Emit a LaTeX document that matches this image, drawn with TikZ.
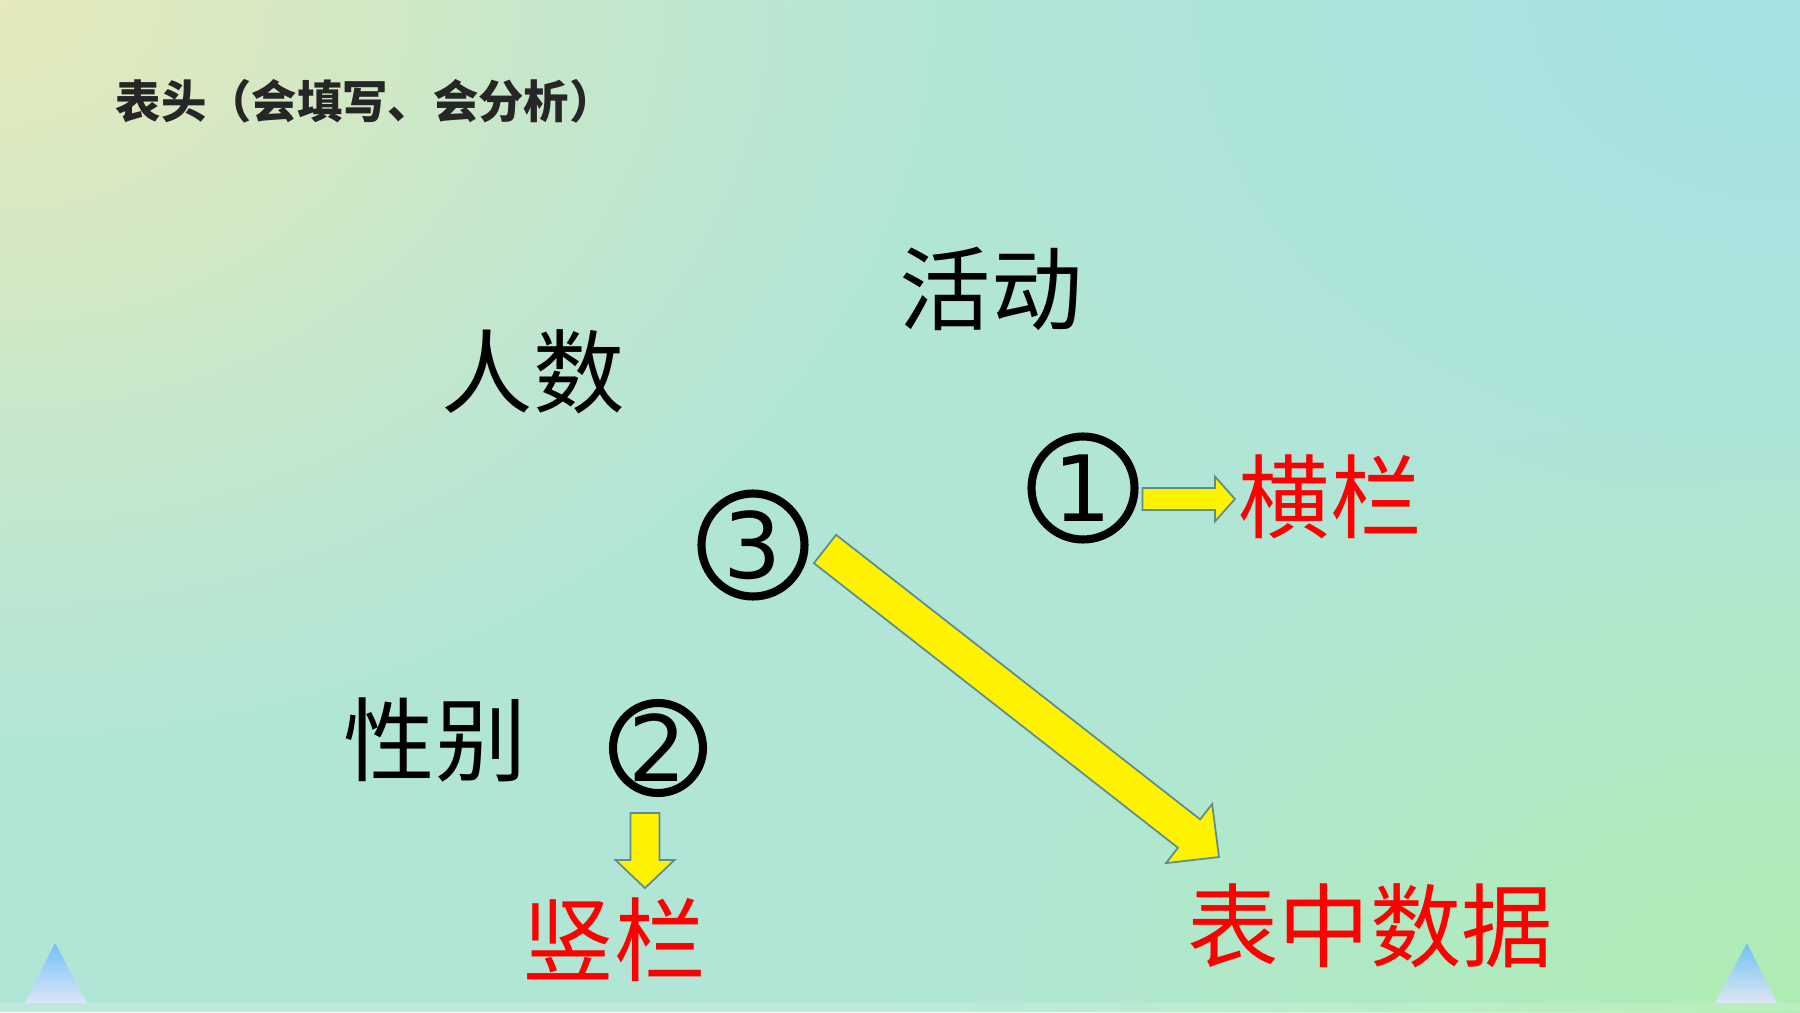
\documentclass[tikz,border=0pt]{standalone}
\usepackage{fontspec}
\usetikzlibrary{calc,fadings}
\newfontfamily\cjk{Noto Sans CJK SC}
\newfontfamily\digitfont{DejaVu Sans}
\definecolor{bgbase}{HTML}{B1E6D7}
\definecolor{bgyellow}{HTML}{E6EABB}
\definecolor{bggreen}{HTML}{AFEDB3}
\definecolor{bgcyan}{HTML}{A5E0E3}
\definecolor{arrowedge}{HTML}{5E8E8C}
\definecolor{titlegray}{HTML}{262626}
\tikzfading[name=glow, inner color=transparent!0, outer color=transparent!100]
\tikzstyle{bigword} = [font=\cjk\fontsize{26pt}{30pt}\selectfont, inner sep=0pt]
\tikzstyle{answer} = [bigword, text=red]
\tikzstyle{num} = [circle, draw, line width=2.3pt, minimum size=1.03cm, inner sep=0pt,
    font=\digitfont\fontsize{26pt}{30pt}\selectfont]
\tikzstyle{fat} = [draw=arrowedge, fill=yellow, line width=0.5pt, line join=miter]
\tikzstyle{corner} = [top color=blue!45!cyan!60!white, bottom color=white!90!blue, opacity=0.85]
% block arrow: tail, tip, half shaft, half head, head length
\newcommand{\fatarrow}[5]{%
  \coordinate (neck) at ($(#2)!#5!(#1)$);
  \path [fat] ($(#1)!#3!90:(#2)$) -- ($(neck)!#3!90:(#2)$) -- ($(neck)!#4!90:(#2)$) -- (#2)
    -- ($(neck)!#4!-90:(#2)$) -- ($(neck)!#3!-90:(#2)$) -- ($(#1)!#3!-90:(#2)$) -- cycle;}

\begin{document}
\begin{tikzpicture}
    \useasboundingbox (0,0) rectangle (18,10.12);
    % Background
    \fill [bgbase] (0,0) rectangle (18,10.12);
    \begin{scope}
      \clip (0,0) rectangle (18,10.12);
      \fill [bgcyan, path fading=glow] (18,10.12) ellipse (8cm and 6cm);
      \fill [bggreen, path fading=glow] (18,0) ellipse (9cm and 6cm);
      \fill [bgyellow, path fading=glow] (0,10.12) ellipse (9.5cm and 7.5cm);
    \end{scope}
    \fill [white, opacity=0.15] (0,0) rectangle (18,0.09);
    \path [corner] (0.25,0.09) -- (0.55,0.69) -- (0.87,0.09) -- cycle;
    \path [corner] (17.15,0.09) -- (17.47,0.69) -- (17.77,0.09) -- cycle;

    % Place nodes
    \node [anchor=west, inner sep=0pt, text=titlegray, font=\cjk\bfseries\fontsize{12.9pt}{15pt}\selectfont]
        (title) at (1.15,9.11) {表头（会填写、会分析）};
    \node [bigword] (activity) at (9.91,7.23) {活动};
    \node [bigword] (people) at (5.33,6.40) {人数};
    \node [bigword] (gender) at (4.35,2.72) {性别};
    \node [num] (c1) at (10.83,5.24) {1};
    \node [num] (c3) at (7.53,4.67) {3};
    \node [num, minimum size=0.90cm] (c2) at (6.58,2.64) {2};
    \node [answer, right of=c1, node distance=2.47cm, yshift=-0.09cm] (row) {横栏};
    \node [answer, below of=c2, node distance=1.92cm, xshift=-0.44cm] (column) {竖栏};
    \node [answer] (data) at (13.70,0.86) {表中数据};

    % Draw edges
    \coordinate (a1) at ($(c1.east)+(0.04,-0.11)$);
    \coordinate (b1) at ($(row.west)+(-0.03,-0.02)$);
    \fatarrow{a1}{b1}{0.11cm}{0.225cm}{0.20cm}
    \coordinate (a2) at ($(c2.south)+(-0.13,-0.16)$);
    \coordinate (b2) at ($(a2)+(0,-0.75)$);
    \fatarrow{a2}{b2}{0.145cm}{0.295cm}{0.28cm}
    \coordinate (a3) at ($(c3.center)+(0.72,-0.04)$);
    \coordinate (b3) at ($(data.center)+(-1.51,0.69)$);
    \fatarrow{a3}{b3}{0.18cm}{0.375cm}{0.38cm}
\end{tikzpicture}
\end{document}
